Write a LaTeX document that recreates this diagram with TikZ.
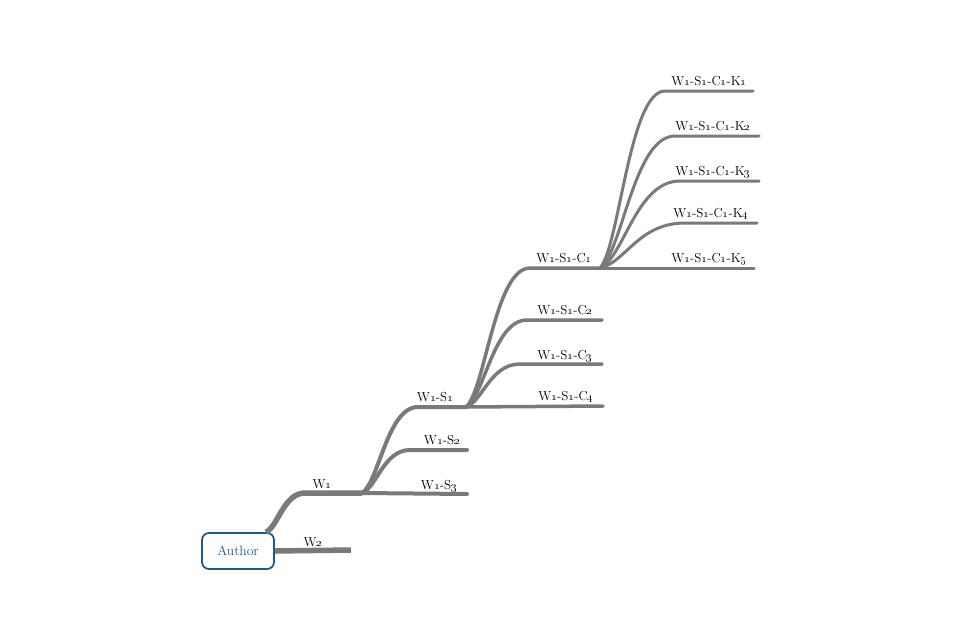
\documentclass[tikz,border=0pt]{standalone}
\usetikzlibrary{calc}
\definecolor{brgray}{HTML}{7A7A7A}
\definecolor{authblue}{HTML}{1D5A8E}
\newcommand\od[1]{\oldstylenums{#1}}
\begin{document}
\begin{tikzpicture}[x=1pt,y=-1pt,
  branch/.style={to path={let \p1=(\tikztostart), \p2=(\tikztotarget) in
      .. controls ({\x1+0.3*(\x2-\x1)},{\y1+0.12*(\y2-\y1)}) and ({\x1+0.45*(\x2-\x1)},\y2) .. (\tikztotarget)}},
  lineA/.style={draw=brgray, line width=5.5pt, line cap=round},
  lineB/.style={draw=brgray, line width=4pt, line cap=round},
  lineC/.style={draw=brgray, line width=3.5pt, line cap=round},
  lineD/.style={draw=brgray, line width=3pt, line cap=round},
  lbl/.style={anchor=base, inner sep=0pt, font=\fontsize{13}{15}\selectfont, text=black},
  authorbox/.style={draw=authblue, line width=1.8pt, rounded corners=7pt, fill=white,
      minimum width=72pt, minimum height=36pt, text=authblue, font=\fontsize{13.5}{15}\selectfont}
]
\useasboundingbox (0,0) rectangle (960,640);

% junctions and ends
\coordinate (w1k) at (305,493);
\coordinate (w1e) at (362,493);
\coordinate (w2e) at (351,550);
\coordinate (s1k) at (418,407); \coordinate (s1e) at (466,407);
\coordinate (s2k) at (410,450); \coordinate (s2e) at (467,450);
\coordinate (s3e) at (467,494);
\coordinate (c1k) at (530,268); \coordinate (c1e) at (600,268);
\coordinate (c2k) at (527,320); \coordinate (c2e) at (602,320);
\coordinate (c3k) at (520,364); \coordinate (c3e) at (602,364);
\coordinate (c4e) at (603,406);
\coordinate (k1k) at (665,91);  \coordinate (k1e) at (753,91);
\coordinate (k2k) at (675,136); \coordinate (k2e) at (759,136);
\coordinate (k3k) at (680,181); \coordinate (k3e) at (759,181);
\coordinate (k4k) at (685,223); \coordinate (k4e) at (757,223);
\coordinate (k5e) at (754,268);

% K level
\draw[lineD] (c1e) to[branch] (k1k) -- (k1e);
\draw[lineD] (c1e) to[branch] (k2k) -- (k2e);
\draw[lineD] (c1e) to[branch] (k3k) -- (k3e);
\draw[lineD] (c1e) to[branch] (k4k) -- (k4e);
\draw[lineD] (c1e) -- (k5e);

% C level
\draw[lineC] (s1e) to[branch] (c1k) -- (c1e);
\draw[lineC] (s1e) to[branch] (c2k) -- (c2e);
\draw[lineC] (s1e) to[branch] (c3k) -- (c3e);
\draw[lineC] (s1e) -- (c4e);

% S level
\draw[lineB] (w1e) to[branch] (s1k) -- (s1e);
\draw[lineB] (w1e) to[branch] (s2k) -- (s2e);
\draw[lineB] (w1e) -- (s3e);

% root
\node[authorbox] (author) at (238,551) {Author};
\draw[lineA, line cap=butt] ([xshift=-9pt]author.north east) to[branch] (w1k) -- (w1e);
\draw[lineA, line cap=butt] (author.east) -- (w2e);

% labels
\node[lbl] (lw1) at (322,488) {W\od{1}};
\node[lbl] (lw2) at (313,546) {W\od{2}};
\node[lbl] (ls1) at (435,401) {W\od{1}-S\od{1}};
\node[lbl] (ls2) at (442,444) {W\od{1}-S\od{2}};
\node[lbl] (ls3) at (439,489) {W\od{1}-S\od{3}};
\node[lbl] (lc1) at (564,262) {W\od{1}-S\od{1}-C\od{1}};
\node[lbl] (lc2) at (565,314) {W\od{1}-S\od{1}-C\od{2}};
\node[lbl] (lc3) at (565,359) {W\od{1}-S\od{1}-C\od{3}};
\node[lbl] (lc4) at (566,400) {W\od{1}-S\od{1}-C\od{4}};
\node[lbl] (lk1) at (709,85)  {W\od{1}-S\od{1}-C\od{1}-K\od{1}};
\node[lbl] (lk2) at (713,130) {W\od{1}-S\od{1}-C\od{1}-K\od{2}};
\node[lbl] (lk3) at (713,175) {W\od{1}-S\od{1}-C\od{1}-K\od{3}};
\node[lbl] (lk4) at (711,217) {W\od{1}-S\od{1}-C\od{1}-K\od{4}};
\node[lbl] (lk5) at (709,262) {W\od{1}-S\od{1}-C\od{1}-K\od{5}};
\end{tikzpicture}
\end{document}
